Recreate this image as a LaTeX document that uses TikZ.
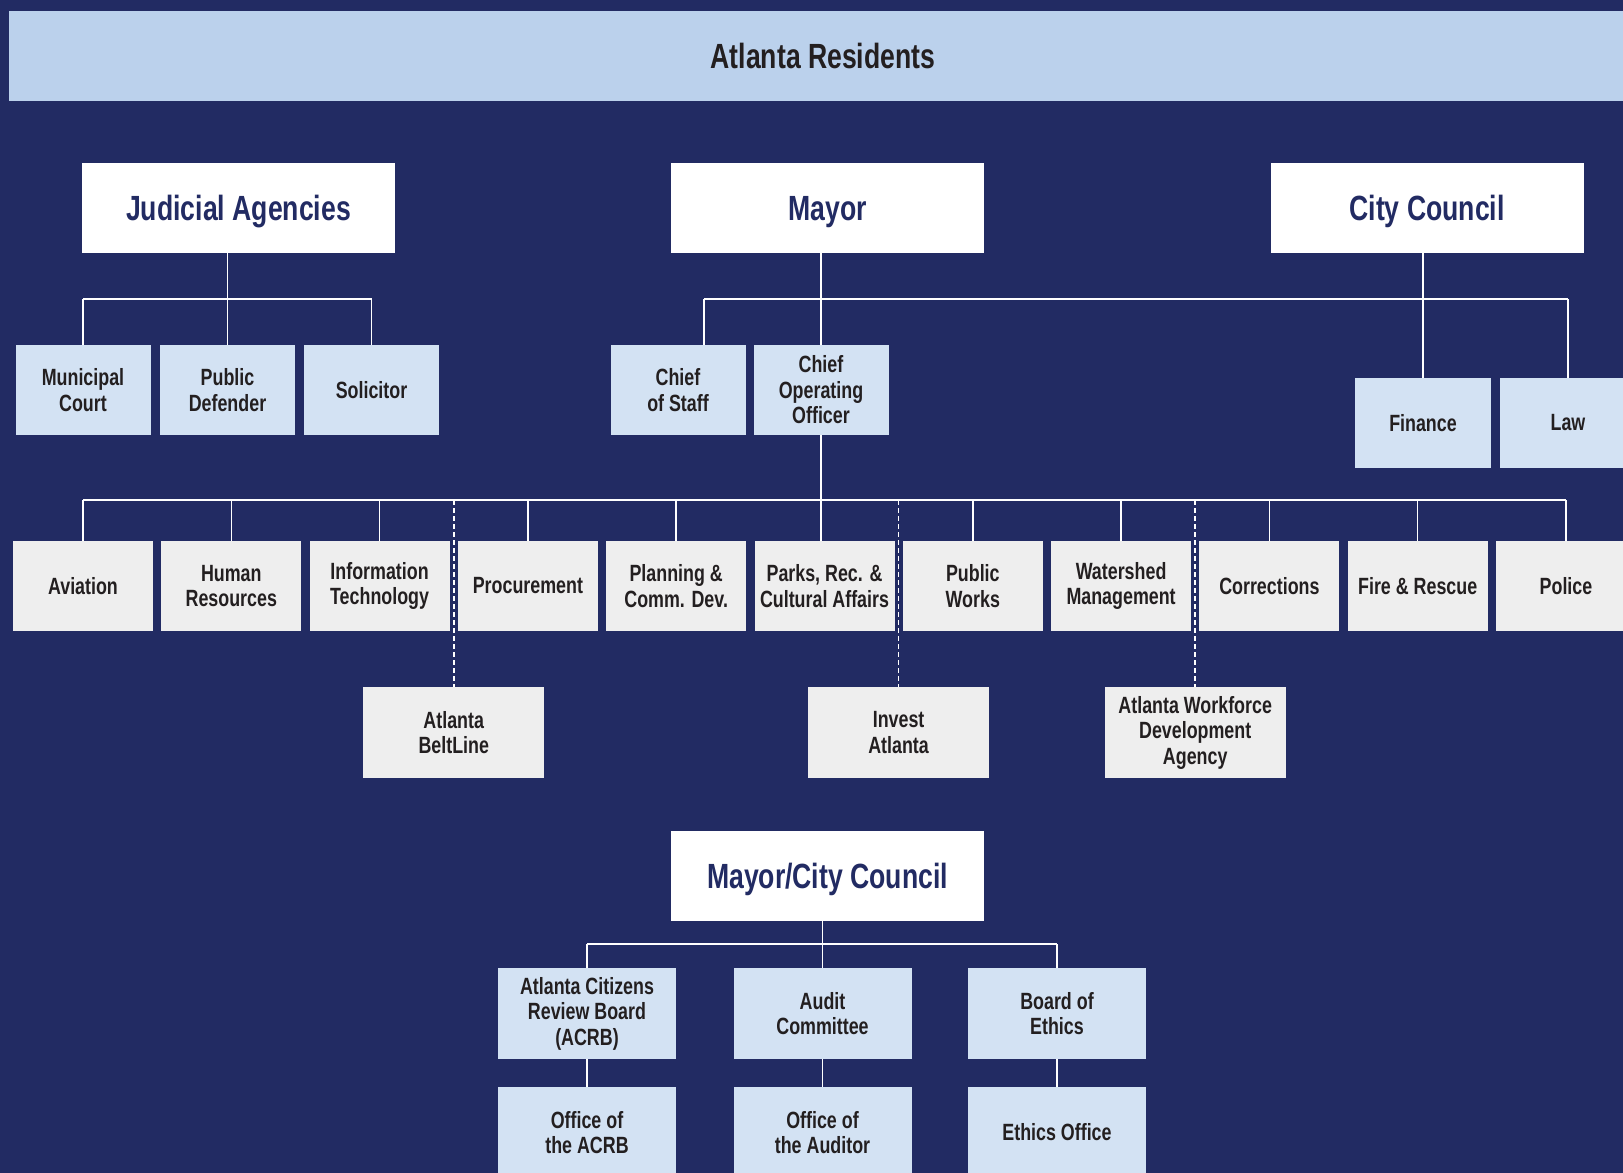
\documentclass[tikz,border=0pt]{standalone}
\usepackage{fontspec}
\setmainfont{Liberation Sans}[FakeStretch=0.76]
\definecolor{cityNavy}{HTML}{222B63}
\definecolor{cityBanner}{HTML}{BBD1EC}
\definecolor{cityBlue}{HTML}{D3E2F3}
\definecolor{cityGray}{HTML}{EEEEEE}
\definecolor{cityInk}{HTML}{231F20}

\begin{document}
\begin{tikzpicture}[x=1pt, y=-1pt,
		banner/.style={fill=cityBanner, text=cityInk, minimum width=1628pt, minimum height=90pt, inner sep=0pt, text depth=0pt, font=\fontsize{35}{38}\selectfont\bfseries},
		head/.style={fill=white, text=cityNavy, minimum width=313pt, minimum height=90pt, inner sep=0pt, text depth=0pt, font=\fontsize{35}{38}\selectfont\bfseries},
		office/.style={fill=cityBlue, text=cityInk, minimum width=135pt, minimum height=90pt, inner sep=0pt, align=center, font=\fontsize{23.5}{25.5}\selectfont\bfseries},
		dept/.style={office, fill=cityGray, minimum width=140pt},
		agency/.style={office, fill=cityGray, minimum width=181pt, minimum height=91pt},
		board/.style={office, minimum width=178pt, minimum height=91pt},
		link/.style={draw=white, line width=1.5pt},
		dotlink/.style={link, dash pattern=on 5pt off 3pt}
	]
	\useasboundingbox (0,0) rectangle (1623,1173);
	\clip (0,0) rectangle (1623,1173);
	\fill[cityNavy] (0,0) rectangle (1623,1173);

	\node[banner] (residents) at (823,56) {Atlanta Residents};

	\node[head] (judicial) at (238.5,208) {Judicial Agencies};
	\node[head] (mayor) at (827.5,208) {Mayor};
	\node[head] (council) at (1427,208) {City Council};

	\node[office] (municipal) at (83,390) {Municipal\\Court};
	\node[office] (defender) at (227.5,390) {Public\\Defender};
	\node[office] (solicitor) at (371.5,390) {Solicitor};

	\node[office] (staff) at (678,390) {Chief\\of Staff};
	\node[office] (coo) at (821,390) {Chief\\Operating\\Officer};

	\node[office, minimum width=136pt] (finance) at (1423,423) {Finance};
	\node[office, minimum width=136pt] (law) at (1568,423) {Law};

	\node[dept] (aviation) at (83,586) {Aviation};
	\node[dept] (hr) at (231.3,586) {Human\\Resources};
	\node[dept] (it) at (379.6,586) {Information\\Technology};
	\node[dept] (procurement) at (527.9,586) {Procurement};
	\node[dept] (planning) at (676.2,586) {Planning \&\\Comm. Dev.};
	\node[dept] (parks) at (824.5,586) {Parks, Rec. \&\\Cultural Affairs};
	\node[dept] (works) at (972.8,586) {Public\\Works};
	\node[dept] (watershed) at (1121.1,586) {Watershed\\Management};
	\node[dept] (corrections) at (1269.4,586) {Corrections};
	\node[dept] (fire) at (1417.7,586) {Fire \& Rescue};
	\node[dept] (police) at (1566,586) {Police};

	\node[agency] (beltline) at (453.75,732.5) {Atlanta\\BeltLine};
	\node[agency] (invest) at (898.6,732.5) {Invest\\Atlanta};
	\node[agency] (workforce) at (1195.2,732.5) {Atlanta Workforce\\Development\\Agency};

	\node[head] (joint) at (827.5,875.5) {Mayor/City Council};

	\node[board] (acrb) at (587,1013.5) {Atlanta Citizens\\Review Board\\(ACRB)};
	\node[board] (audit) at (822.5,1013.5) {Audit\\Committee};
	\node[board] (ethics) at (1057,1013.5) {Board of\\Ethics};
	\node[board] (acrboffice) at (587,1132.5) {Office of\\the ACRB};
	\node[board] (auditor) at (822.5,1132.5) {Office of\\the Auditor};
	\node[board] (ethicsoffice) at (1057,1132.5) {Ethics Office};

	\coordinate (topbus) at (0,299);
	\coordinate (deptbus) at (0,500);
	\coordinate (lowbus) at (0,944);

	\draw[link] (defender.north |- judicial.south) -- (defender.north);
	\draw[link] (municipal.north |- topbus) -- (solicitor.north |- topbus);
	\draw[link] (municipal.north |- topbus) -- (municipal.north);
	\draw[link] (solicitor.north |- topbus) -- (solicitor.north);

	\draw[link] (coo.north |- mayor.south) -- (coo.north);
	\draw[link] ([xshift=26pt]staff.north |- topbus) -- (law.north |- topbus);
	\draw[link] ([xshift=26pt]staff.north |- topbus) -- ([xshift=26pt]staff.north);
	\draw[link] (finance.north |- council.south) -- (finance.north);
	\draw[link] (law.north |- topbus) -- (law.north);

	\draw[link] (coo.south) -- (coo.south |- deptbus);
	\draw[link] (aviation.north |- deptbus) -- (police.north |- deptbus);
	\draw[link] (aviation.north |- deptbus) -- (aviation.north);
	\draw[link] (hr.north |- deptbus) -- (hr.north);
	\draw[link] (it.north |- deptbus) -- (it.north);
	\draw[link] (procurement.north |- deptbus) -- (procurement.north);
	\draw[link] (planning.north |- deptbus) -- (planning.north);
	\draw[link] (coo.south |- deptbus) -- (coo.south |- parks.north);
	\draw[link] (works.north |- deptbus) -- (works.north);
	\draw[link] (watershed.north |- deptbus) -- (watershed.north);
	\draw[link] (corrections.north |- deptbus) -- (corrections.north);
	\draw[link] (fire.north |- deptbus) -- (fire.north);
	\draw[link] (police.north |- deptbus) -- (police.north);

	\draw[dotlink] (beltline.north |- deptbus) -- (beltline.north);
	\draw[dotlink] (invest.north |- deptbus) -- (invest.north);
	\draw[dotlink] (workforce.north |- deptbus) -- (workforce.north);

	\draw[link] (audit.north |- joint.south) -- (audit.north);
	\draw[link] (acrb.north |- lowbus) -- (ethics.north |- lowbus);
	\draw[link] (acrb.north |- lowbus) -- (acrb.north);
	\draw[link] (ethics.north |- lowbus) -- (ethics.north);
	\draw[link] (acrb.south) -- (acrboffice.north);
	\draw[link] (audit.south) -- (auditor.north);
	\draw[link] (ethics.south) -- (ethicsoffice.north);
\end{tikzpicture}
\end{document}
